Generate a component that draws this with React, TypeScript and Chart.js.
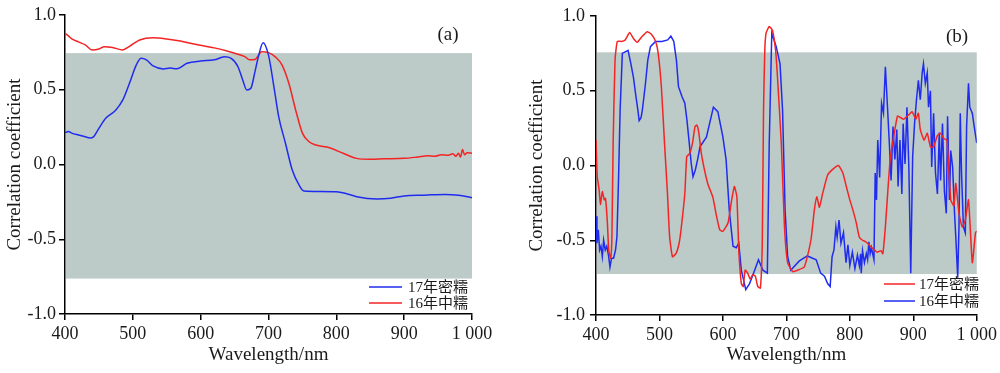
import React, { useEffect, useRef } from 'react';
import { Chart, registerables } from 'chart.js';
Chart.register(...registerables);

// ---------- data ----------
const xTicks = [400, 500, 600, 700, 800, 900, 1000];
const xTickLabels = ['400', '500', '600', '700', '800', '900', '1 000'];
const yTicks = [-1, -0.5, 0, 0.5, 1];
const yTickLabels = ['-1.0', '-0.5', '0.0', '0.5', '1.0'];
const seriesNames = ['17年密糯', '16年中糯'];
const panelLabels = ['(a)', '(b)'];
const axisTitleX = 'Wavelength/nm';
const axisTitleY = 'Correlation coefficient';
const shadeA = [-0.763, 0.745];
const shadeB = [-0.726, 0.757];

// Panel (a): 17年密糯 (blue)
const a17 = [[400,0.213],[405,0.22],[410,0.21],[420,0.197],[430,0.185],[437,0.178],[442,0.185],[450,0.242],[460,0.309],[475,0.365],[485,0.43],[495,0.543],[505,0.665],[512,0.71],[520,0.7],[530,0.659],[545,0.639],[555,0.645],[565,0.64],[580,0.677],[600,0.692],[620,0.7],[635,0.72],[645,0.71],[655,0.654],[662,0.565],[668,0.498],[674,0.51],[680,0.62],[685,0.72],[692,0.815],[700,0.732],[708,0.52],[715,0.32],[725,0.142],[735,-0.037],[745,-0.137],[752,-0.177],[775,-0.18],[800,-0.182],[815,-0.195],[830,-0.215],[860,-0.23],[880,-0.225],[900,-0.21],[930,-0.205],[960,-0.2],[980,-0.205],[1000,-0.222]];
// Panel (a): 16年中糯 (red)
const a16 = [[400,0.877],[405,0.86],[410,0.84],[420,0.82],[430,0.8],[440,0.766],[450,0.772],[458,0.788],[470,0.783],[485,0.766],[495,0.79],[510,0.833],[530,0.848],[550,0.84],[570,0.826],[590,0.806],[620,0.78],[640,0.758],[655,0.738],[665,0.722],[672,0.7],[680,0.703],[690,0.755],[700,0.748],[710,0.72],[720,0.665],[730,0.543],[740,0.365],[750,0.21],[760,0.152],[770,0.13],[790,0.112],[810,0.075],[830,0.041],[850,0.035],[870,0.038],[900,0.041],[920,0.05],[935,0.058],[945,0.055],[955,0.066],[965,0.062],[972,0.072],[976,0.055],[980,0.075],[983,0.05],[986,0.1],[989,0.065],[993,0.078],[1000,0.075]];

// Panel (b): 17年密糯 (red)
const b17 = [[400,0.17],[402,-0.075],[405,-0.164],[407,-0.26],[410,-0.175],[413,-0.23],[415,-0.22],[418,-0.387],[420,-0.565],[423,-0.62],[425,-0.49],[427,0.148],[430,0.705],[433.5,0.83],[440,0.83],[446,0.84],[453,0.89],[459,0.85],[465,0.825],[472,0.86],[480.6,0.895],[487,0.88],[494,0.83],[498,0.75],[503,0.527],[508,0.148],[512.6,-0.186],[516,-0.476],[520.5,-0.61],[526,-0.59],[531,-0.52],[534,-0.43],[540,-0.186],[543,0.06],[547.6,0.08],[552,0.148],[556,0.26],[559,0.27],[562,0.22],[566,0.08],[576,-0.12],[584,-0.21],[590,-0.34],[595,-0.43],[600,-0.44],[608,-0.385],[613,-0.25],[618,-0.14],[622,-0.21],[625,-0.565],[629,-0.79],[632,-0.81],[635,-0.7],[639,-0.72],[643,-0.76],[647,-0.73],[651,-0.74],[655,-0.81],[659,-0.82],[662,-0.52],[664,0.37],[666,0.77],[668,0.885],[673,0.93],[678,0.905],[683,0.77],[686,0.59],[692,0.15],[697,-0.41],[702,-0.65],[710,-0.71],[718,-0.7],[728,-0.68],[733,-0.61],[739,-0.49],[744,-0.3],[748,-0.21],[752,-0.28],[757,-0.19],[765,-0.064],[773,-0.026],[782,0.0],[789,-0.05],[795,-0.15],[800,-0.23],[805,-0.3],[810,-0.38],[815,-0.48],[820,-0.5],[825,-0.51],[835,-0.55],[843,-0.58],[849,-0.57],[852,-0.59],[856,-0.41],[861,-0.1],[864,0.06],[870,0.215],[875,0.33],[880,0.32],[885,0.31],[893,0.34],[898,0.36],[904,0.31],[908,0.35],[911,0.24],[917,0.17],[922,0.215],[927,0.125],[932,0.125],[938,0.2],[943,0.215],[948,0.18],[953,0.17],[959,-0.23],[964,-0.27],[967,-0.12],[972,-0.32],[977,-0.41],[982,-0.365],[987,-0.23],[993,-0.65],[998,-0.45],[1000,-0.44]];
// Panel (b): 16年中糯 (blue)
const b16 = [[400,-0.34],[401.5,-0.52],[403.6,-0.43],[405.7,-0.565],[407.8,-0.54],[410,-0.61],[412,-0.5],[414.6,-0.565],[417,-0.54],[420,-0.61],[422,-0.68],[424.5,-0.62],[427.7,-0.62],[430.8,-0.565],[433,-0.476],[435.6,-0.075],[438,0.37],[441.5,0.75],[446,0.76],[450.5,0.77],[455,0.68],[459,0.59],[463,0.46],[466,0.37],[468,0.3],[471,0.32],[473,0.37],[475,0.44],[478,0.55],[481.6,0.705],[485.8,0.795],[493.7,0.83],[504,0.83],[513,0.84],[518,0.866],[522.6,0.83],[526.7,0.705],[530,0.527],[535.6,0.46],[540,0.416],[543.4,0.3],[547,0.148],[550,0.015],[552.9,-0.075],[556.5,-0.03],[560,0.037],[564,0.126],[574,0.19],[585,0.39],[592,0.36],[600,0.19],[605,0.04],[610,-0.3],[616,-0.54],[621,-0.55],[625,-0.52],[629,-0.7],[636,-0.83],[642,-0.79],[650,-0.7],[656,-0.63],[663,-0.7],[670,-0.72],[673,0.15],[677,0.885],[684,0.795],[690,0.68],[694,0.37],[698,-0.3],[702,-0.61],[707,-0.7],[720,-0.64],[733,-0.605],[747,-0.63],[754,-0.72],[760,-0.74],[765,-0.79],[769,-0.81],[772,-0.61],[775,-0.565],[778,-0.41],[780,-0.48],[783,-0.365],[786,-0.52],[790,-0.45],[794,-0.65],[797,-0.53],[800,-0.67],[804,-0.58],[808,-0.69],[812,-0.6],[815,-0.67],[817,-0.59],[818,-0.72],[820,-0.57],[823,-0.65],[826,-0.59],[828,-0.63],[830,-0.51],[832,-0.59],[834,-0.55],[838,-0.63],[840,-0.05],[842,-0.23],[844,0.17],[847,-0.08],[850,0.415],[853,0.35],[856,0.66],[858,0.5],[862,0.17],[865,-0.1],[868,0.26],[871,0.04],[874,0.24],[876,-0.14],[879,0.17],[882,-0.19],[884,0.28],[887,0.01],[890,0.39],[893,-0.01],[896,-0.72],[899,0.06],[902,0.28],[905,0.44],[908,0.57],[911,0.44],[914,0.62],[916,0.68],[919,0.55],[922,0.62],[924,0.39],[927,0.5],[929,-0.01],[932,0.35],[935,-0.05],[938,-0.19],[941,0.22],[943,-0.1],[946,0.28],[949,-0.17],[952,-0.32],[954,0.33],[957,-0.23],[959,0.1],[962,-0.01],[965,-0.32],[967,-0.48],[970,-0.75],[972,-0.41],[974,0.35],[976,-0.05],[979,-0.41],[982,-0.45],[984,0.26],[987,0.55],[989,0.39],[993,0.35],[996,0.26],[1000,0.15]];

// ---------- styling ----------
const FONT = "'Liberation Serif', 'Times New Roman', 'Noto Sans CJK SC', serif";
const LEGEND_FONT = "'Liberation Serif', 'Noto Sans CJK SC', serif";
const BLUE = '#1f2cf0';
const RED = '#f42424';
const SHADE = '#bccac8';
const TEXT = '#1a1a1a';

const toPts = (arr: number[][]) => arr.map(([x, y]) => ({ x, y }));

const decorPlugin = {
  id: 'decor',
  beforeDatasetsDraw(chart: any, _args: any, opts: any) {
    const { ctx, scales } = chart;
    const x0 = scales.x.getPixelForValue(scales.x.min) + 1;
    const x1 = scales.x.getPixelForValue(scales.x.max);
    const yT = scales.y.getPixelForValue(opts.shade[1]);
    const yB = scales.y.getPixelForValue(opts.shade[0]);
    ctx.save();
    ctx.fillStyle = SHADE;
    ctx.fillRect(x0, yT, x1 - x0, yB - yT);
    ctx.restore();
  },
  afterDraw(chart: any, _args: any, opts: any) {
    const { ctx } = chart;
    ctx.save();
    ctx.fillStyle = TEXT;
    ctx.font = `19px ${FONT}`;
    ctx.textAlign = 'center';
    ctx.textBaseline = 'middle';
    ctx.fillText(opts.label, opts.labelX, opts.labelY);
    ctx.font = `15px ${LEGEND_FONT}`;
    ctx.textAlign = 'left';
    const items = opts.items;
    for (let i = 0; i < items.length; i++) {
      const it = items[i];
      const y = opts.legendY[i];
      ctx.strokeStyle = it.color;
      ctx.lineWidth = 1.5;
      ctx.beginPath();
      ctx.moveTo(opts.lineX0, y);
      ctx.lineTo(opts.lineX1, y);
      ctx.stroke();
      ctx.fillStyle = TEXT;
      ctx.fillText(it.text, opts.textX, y + 1);
    }
    ctx.restore();
  },
};

function makeConfig(p: any) {
  const tickFont = { family: FONT, size: 18 };
  const titleFont = { family: FONT, size: 19 };
  return {
    type: 'line',
    data: {
      datasets: p.datasets,
    },
    plugins: [decorPlugin],
    options: {
      animation: false,
      responsive: false,
      maintainAspectRatio: false,
      parsing: true,
      layout: { padding: { left: 0, right: p.padRight, top: p.padTop, bottom: 0 } },
      plugins: {
        legend: { display: false },
        tooltip: { enabled: false },
        decor: p.decor,
      },
      elements: { point: { radius: 0 } },
      scales: {
        x: {
          type: 'linear',
          min: 400,
          max: 1000,
          afterBuildTicks: (s: any) => { s.ticks = xTicks.map((v) => ({ value: v })); },
          afterFit: (s: any) => { s.height = p.xHeight; },
          ticks: {
            color: TEXT,
            font: tickFont,
            padding: 3,
            maxRotation: 0,
            autoSkip: false,
            callback: (v: number) => xTickLabels[xTicks.indexOf(v)],
          },
          grid: { display: true, drawOnChartArea: false, drawTicks: true, tickLength: 6, color: '#000', lineWidth: 1.5 },
          border: { display: true, color: '#000', width: 1.5 },
          title: { display: true, text: axisTitleX, color: TEXT, font: titleFont, padding: { top: 0, bottom: 7 } },
        },
        y: {
          type: 'linear',
          min: -1,
          max: 1,
          afterBuildTicks: (s: any) => { s.ticks = yTicks.map((v) => ({ value: v })); },
          afterFit: (s: any) => { s.width = p.yWidth; },
          ticks: {
            color: TEXT,
            font: tickFont,
            padding: p.yTickPad,
            autoSkip: false,
            callback: (v: number) => yTickLabels[yTicks.indexOf(v)],
          },
          grid: { display: true, drawOnChartArea: false, drawTicks: true, tickLength: 6, color: '#000', lineWidth: 1.5 },
          border: { display: true, color: '#000', width: 1.5 },
          title: { display: true, text: axisTitleY, color: TEXT, font: titleFont, padding: { top: p.yTitlePad, bottom: 0 } },
        },
      },
    },
  };
}

function Panel({ cfg, left }: { cfg: any; left: number }) {
  const ref = useRef<HTMLCanvasElement | null>(null);
  useEffect(() => {
    if (!ref.current) return;
    const chart = new Chart(ref.current, makeConfig(cfg) as any);
    return () => chart.destroy();
  }, []);
  return (
    <canvas
      ref={ref}
      width={500}
      height={373}
      style={{ position: 'absolute', left, top: 0, width: 500, height: 373 }}
    />
  );
}

const panelA = {
  padRight: 28,
  padTop: 15,
  xHeight: 59,
  yWidth: 65,
  yTickPad: 3,
  yTitlePad: 4,
  datasets: [
    { label: seriesNames[0], data: toPts(a17), borderColor: BLUE, borderWidth: 1.5, pointRadius: 0, cubicInterpolationMode: 'monotone', fill: false },
    { label: seriesNames[1], data: toPts(a16), borderColor: RED, borderWidth: 1.5, pointRadius: 0, cubicInterpolationMode: 'monotone', fill: false },
  ],
  decor: {
    shade: shadeA,
    label: panelLabels[0],
    labelX: 448,
    labelY: 35,
    lineX0: 369,
    lineX1: 402,
    textX: 408,
    legendY: [287, 303],
    items: [
      { text: seriesNames[0], color: BLUE },
      { text: seriesNames[1], color: RED },
    ],
  },
};

const panelB = {
  padRight: 22,
  padTop: 16,
  xHeight: 58,
  yWidth: 96,
  yTickPad: 5,
  yTitlePad: 26,
  datasets: [
    { label: seriesNames[0], data: toPts(b17), borderColor: RED, borderWidth: 1.5, pointRadius: 0, tension: 0.15, fill: false },
    { label: seriesNames[1], data: toPts(b16), borderColor: BLUE, borderWidth: 1.5, pointRadius: 0, tension: 0, fill: false },
  ],
  decor: {
    shade: shadeB,
    label: panelLabels[1],
    labelX: 457,
    labelY: 37,
    lineX0: 384,
    lineX1: 415,
    textX: 419,
    legendY: [284, 301],
    items: [
      { text: seriesNames[0], color: RED },
      { text: seriesNames[1], color: BLUE },
    ],
  },
};

export default function App() {
  useEffect(() => {
    document.body.style.margin = '0';
  }, []);
  return (
    <div style={{ position: 'fixed', left: 0, top: 0, width: 1000, height: 373, background: '#fff', overflow: 'hidden' }}>
      <Panel cfg={panelA} left={0} />
      <Panel cfg={panelB} left={500} />
    </div>
  );
}
